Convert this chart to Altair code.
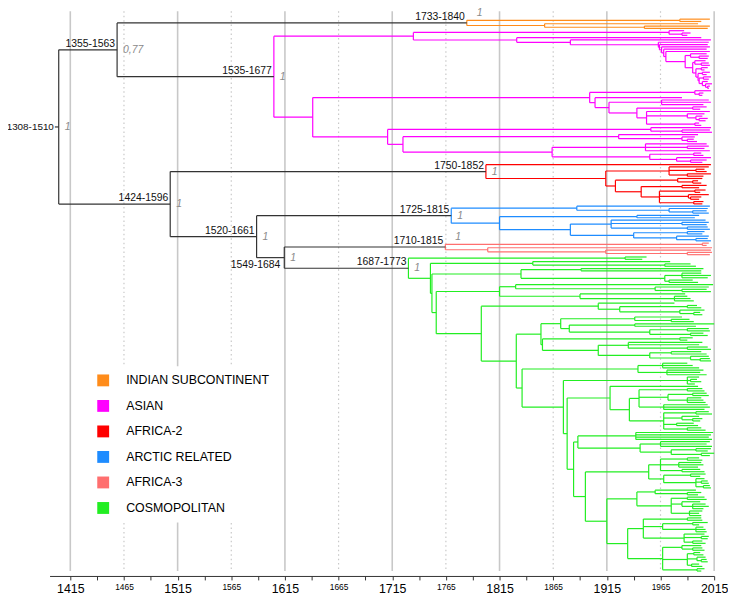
import altair as alt
import pandas as pd

# ---------------- axis values ----------------
tick_years = list(range(1415, 2016, 25))
major_years = [1415, 1515, 1615, 1715, 1815, 1915, 2015]
minor_years = [1465, 1565, 1665, 1765, 1865, 1965]

# ---------------- clades ----------------
clade_names = ["INDIAN SUBCONTINENT", "ASIAN", "AFRICA-2", "ARCTIC RELATED", "AFRICA-3", "COSMOPOLITAN"]
clade_colors = ["#ff8c1a", "#ff00ff", "#ff0000", "#1e8cff", "#ff6f6f", "#22ee22"]
clade_hpd = ["1733-1840", "1535-1677", "1750-1852", "1725-1815", "1710-1815", "1687-1773"]
clade_post = ["1", "1", "1", "1", "1", "1"]
clade_post_style = ["above", "right", "right", "right", "above", "right"]

# subtrees: "(child,child,...)date", tips are sampling years
ORANGE = "((2011,2003)1983,(2000,(2011,2009)1950)1857)1784.5"

ASIAN_U1 = "(1987,(1993,1990)1985)1973"
ASIAN_U5 = ("(2011,((2008,(2010,2009)2001)1993,((2007,(2010,2011)2003)1997,((2009,2006)2003,"
            "((2011,2008)2004,((2012,2010)2005,(2009,(2013,(2011,2010)2009)2007)2004)2001)2000)1998)1995)1988)1970")
ASIAN_U3 = "(2012,(2010,(2009,(2011,(2008," + ASIAN_U5 + ")1968)1966)1964)1963)1881"
ASIAN_U = "(" + ASIAN_U1 + ",(2003," + ASIAN_U3 + ")1831)1734.7"
ASIAN_L1 = ("((2012,(2005,2004)2001)1997,(1985,((2010,2012,2005)1966,((2008,2002)1995,"
            "(2011,(2006,(2004,(2009,2007)2001)1998)1990,(2001,2003)1997)1952)1943)1917)1904)1899")
ASIAN_L2 = ("((2012,(2011,2013)1985)1956,((2000,(1997,(1996,1999)1990)1985)1926,((2008,(2010,2006)1990,2011)1951,"
            "((2003,2005)1996,(2012,(2008,2004)1993)1980)1955)1864)1725)1710.7")
ASIAN = "(" + ASIAN_U + ",(" + ASIAN_L1 + "," + ASIAN_L2 + ")1640.9)1604.7"

RED = ("(2012,((2010,(2006,2008)1998,(2012,2005)1990)1973,((2004,(2000,2003)1995)1981,((2008,2001)1985,"
       "((2007,2002)1997,(2010,(2003,2001)1993)1991,(2005,2004)1996)1964)1947)1923)1914)1802.3")

BLUE = ("((2011,(2009,(2008,2010)1995)1973)1887,((2001,1997)1943,((2007,(2010,2008)1985,(2009,2011)1990)1919,"
        "((2006,2004)1990,(2010,(2009,2012)1998)1980)1940)1881)1815)1770")

AFRICA3 = "((2010,2008)2004,(2013,(2012,(2013,2011)1990)1914)1804)1764.5"

G1 = "(1952,1948)1932"
GA = "(1974,(1993,1998)1969)1846"
GC = "((2005,2003)1891,((2003,2012,2009)1985,(1995,2000)1973)1969)1835"
GD = "((2014,(2010,(2008,2012)1985)1960)1830,(1988,(1990,1993,1996)1978)1890)1815"
N4U = "(1978,((1999,2003)1990,(2006,(2002,2004)1996)1983)1927)1907"
P1 = "((1985,(1992,1996)1975)1941,((2015,1998)1941,((2010,2011)1990,(2005,2009)1993)1955)1880)1872"
P2 = "((1995,1990)1983,((2004,2001,(2009,2012)1990)1935,((2003,2008)1975,(2010,(2011,2012)2002)1993)1955)1907)1855"
Q1 = "((1990,1995,2001)1967,(2005,2002,2008)1971)1944"
R1 = "(2001,(1999,2003)1993,1997)1990"
R2A = "((2004,2006)1990,((2008,2010)1995,(2003,2005,2007)1990)1972,(2009,2011,2006)1968)1945"
R2B = "((2010,2013)1998,(2001,(2004,2002)1995)1985,(1996,2000)1980,(2003,2007)1990)1968"
S1 = "((2014,2012,2010,2013)1942,((2011,2008,2013)1965,((2012,2009)1998,(2015,2011)2003)1975)1946)1888"
S2A = ("(((2001,2004)1990,(2003,2005,2000)1982,(2002,2006)1985)1965,((2007,2002)1993,"
       "(2006,(2009,2010)2003,(2011,2012)2005)1998)1968)1954")
T1 = "((1998,(2003,2000)1990)1960,((2006,2008)1990,(2002,(2007,2010,2005)1995)1985,(2004,2001,2003)1992)1975)1943"
T2A = "((2003,2004)1990,((2009,2001)1995,(2005,2007,2008)1998)1967,(2006,(2010,2009)2003,(2004,2007)1995)1987)1949"
T2B = ("((2003,(2004,2006)1995)1985,((2002,2005)1996,(2007,(2008,2009)2003)1999,(2001,2004)1994)1990,"
       "(2006,2003)1999)1967")
R2 = "(2000,(" + R2A + "," + R2B + ")1936)1918"
S2 = "(" + S2A + ",(" + T1 + ",(" + T2A + "," + T2B + ")1934.4)1915)1895"
S = "(" + S1 + "," + S2 + ")1884"
Q = "(" + Q1 + ",(" + R1 + ",(" + R2 + "," + S + ")1878)1874.5)1836"
N4 = "(" + N4U + ",((" + P1 + "," + P2 + ")1853.6," + Q + ")1830.6)1798"
GREEN = "(" + G1 + ",(" + GA + ",(" + GC + ",(" + GD + "," + N4 + ")1756)1752)1750.6)1730.1"

clade_trees = [ORANGE, ASIAN, RED, BLUE, AFRICA3, GREEN]

# ---------------- backbone ----------------
backbone_names = ["root", "n1", "n2", "n3", "n4"]
backbone_dates = [1404.2, 1458.6, 1508.1, 1588.6, 1614.4]
backbone_kids = [["n1", "n2"], ["INDIAN SUBCONTINENT", "ASIAN"], ["AFRICA-2", "n3"],
                 ["ARCTIC RELATED", "n4"], ["AFRICA-3", "COSMOPOLITAN"]]
backbone_hpd = ["1308-1510", "1355-1563", "1424-1596", "1520-1661", "1549-1684"]
backbone_hpd_style = ["left", "above", "above", "above", "below"]
backbone_post = ["1", "0,77", "1", "1", "1"]
root_stub_from = 1400.6


# ---------------- parse + layout ----------------
def parse(s):
    s = s.replace(" ", "")
    pos = [0]

    def num():
        st = pos[0]
        while pos[0] < len(s) and (s[pos[0]].isdigit() or s[pos[0]] == "."):
            pos[0] += 1
        return float(s[st:pos[0]])

    def node():
        if s[pos[0]] == "(":
            pos[0] += 1
            kids = [node()]
            while s[pos[0]] == ",":
                pos[0] += 1
                kids.append(node())
            pos[0] += 1  # ')'
            return (num(), kids)
        return (num(), [])

    return node()


segs = []
tip_count = [0]
node_pos = {}


def lay_sub(n, parent_date, grp, branch_grp):
    date, kids = n
    if not kids:
        y = tip_count[0]
        tip_count[0] += 1
    else:
        ys = [lay_sub(k, date, grp, grp) for k in kids]
        y = (ys[0] + ys[-1]) / 2
        segs.append(dict(x=date, x2=date, y=ys[0], y2=ys[-1], grp=grp))
    segs.append(dict(x=parent_date, x2=date, y=y, y2=y, grp=branch_grp))
    return y


def lay_bb(name, parent_date):
    if name in clade_names:
        tree = parse(clade_trees[clade_names.index(name)])
        y = lay_sub(tree, parent_date, name, "backbone")
        node_pos[name] = (tree[0], y)
        return y
    i = backbone_names.index(name)
    d = backbone_dates[i]
    ys = [lay_bb(c, d) for c in backbone_kids[i]]
    y = (ys[0] + ys[-1]) / 2
    segs.append(dict(x=d, x2=d, y=ys[0], y2=ys[-1], grp="backbone"))
    segs.append(dict(x=parent_date, x2=d, y=y, y2=y, grp="backbone"))
    node_pos[name] = (d, y)
    return y


lay_bb("root", root_stub_from)
n_tips = tip_count[0]
seg_df = pd.DataFrame(segs)

# ---------------- labels ----------------
hpd_rows, post_rows = [], []
for i, nm in enumerate(backbone_names):
    d, y = node_pos[nm]
    hpd_rows.append(dict(x=root_stub_from if backbone_hpd_style[i] == "left" else d, y=y,
                         text=backbone_hpd[i], style=backbone_hpd_style[i]))
    post_rows.append(dict(x=d, y=y, text=backbone_post[i], style="right"))
for i, nm in enumerate(clade_names):
    d, y = node_pos[nm]
    hpd_rows.append(dict(x=d, y=y, text=clade_hpd[i], style="above"))
    post_rows.append(dict(x=d, y=y, text=clade_post[i], style=clade_post_style[i]))
hpd_df = pd.DataFrame(hpd_rows)
post_df = pd.DataFrame(post_rows)

# ---------------- scales ----------------
FONT = "Liberation Sans"
x_scale = alt.Scale(domain=[1395.64, 2015], nice=False, zero=False)
y_scale = alt.Scale(domain=[0, n_tips - 1], range=[8, 566], nice=False, zero=False)
color_scale = alt.Scale(domain=clade_names + ["backbone"], range=clade_colors + ["#333333"])

x_axis = alt.Axis(
    values=tick_years, format="d", title=None, grid=False,
    labelExpr="(datum.value - 1415) % 50 == 0 ? datum.label : ''",
    labelFontSize={"condition": {"test": "(datum.value - 1415) % 100 == 0", "value": 12.5}, "value": 8.5},
    labelFont=FONT, labelColor="#000000", labelFlush=False, labelOverlap=False,
    tickSize=4, tickColor="#333333", domainColor="#333333", labelPadding=3,
)


def X(field):
    return alt.X(field, type="quantitative", scale=x_scale, axis=x_axis)


def Y(field):
    return alt.Y(field, type="quantitative", scale=y_scale, axis=None)


minor = alt.Chart(pd.DataFrame({"year": minor_years})).mark_rule(
    color="#c8c8c8", strokeWidth=1.2, strokeDash=[1.5, 3]
).encode(x=X("year"), y=alt.value(0), y2=alt.value(566))

major = alt.Chart(pd.DataFrame({"year": major_years})).mark_rule(
    color="#c8c8c8", strokeWidth=1.6
).encode(x=X("year"), y=alt.value(0), y2=alt.value(566))

# invisible squares that only feed the colour legend (filled square symbols)
legend_src = alt.Chart(pd.DataFrame({"grp": clade_names})).mark_square(
    opacity=0, size=144, filled=True
).encode(
    x=alt.value(0), y=alt.value(0),
    color=alt.Color(
        "grp:N", scale=color_scale,
        legend=alt.Legend(
            title=None, orient="none", legendX=40, legendY=359, values=clade_names,
            symbolType="square", symbolSize=144, symbolOpacity=1, symbolStrokeWidth=0,
            labelFont=FONT, labelFontSize=12.5, labelColor="#000000",
            rowPadding=12.8, labelOffset=17, padding=8, fillColor="white",
        ),
    ),
)

tree = alt.Chart(seg_df).mark_rule(strokeWidth=1.2).encode(
    x=X("x"), x2="x2", y=Y("y"), y2="y2",
    color=alt.Color("grp:N", scale=color_scale, legend=None),
)

txt = dict(font=FONT, fontSize=10.5, color="#111111")
hpd_above = alt.Chart(hpd_df[hpd_df["style"] == "above"]).mark_text(
    align="right", baseline="alphabetic", dx=-2, dy=-3, **txt
).encode(x=X("x"), y=Y("y"), text="text")
hpd_below = alt.Chart(hpd_df[hpd_df["style"] == "below"]).mark_text(
    align="right", baseline="top", dx=-4, dy=2, **txt
).encode(x=X("x"), y=Y("y"), text="text")
hpd_left = alt.Chart(hpd_df[hpd_df["style"] == "left"]).mark_text(
    align="right", baseline="middle", dx=-1, font=FONT, fontSize=10, color="#111111"
).encode(x=X("x"), y=Y("y"), text="text")

ptxt = dict(font=FONT, fontSize=10.5, color="#8a8a8a", fontStyle="italic")
post_right = alt.Chart(post_df[post_df["style"] == "right"]).mark_text(
    align="left", baseline="middle", dx=6, **ptxt
).encode(x=X("x"), y=Y("y"), text="text")
post_above = alt.Chart(post_df[post_df["style"] == "above"]).mark_text(
    align="left", baseline="middle", dx=10, dy=-10, **ptxt
).encode(x=X("x"), y=Y("y"), text="text")

chart = alt.layer(
    legend_src, minor, major, tree, hpd_above, hpd_below, hpd_left, post_right, post_above
).properties(
    width=672, height=571,
    padding={"left": 42, "top": 0, "right": 14, "bottom": 19},
    autosize=alt.AutoSizeParams(type="none"),
).configure_view(stroke=None)

chart.save("out.html", embed_options={"renderer": "svg", "actions": False})
